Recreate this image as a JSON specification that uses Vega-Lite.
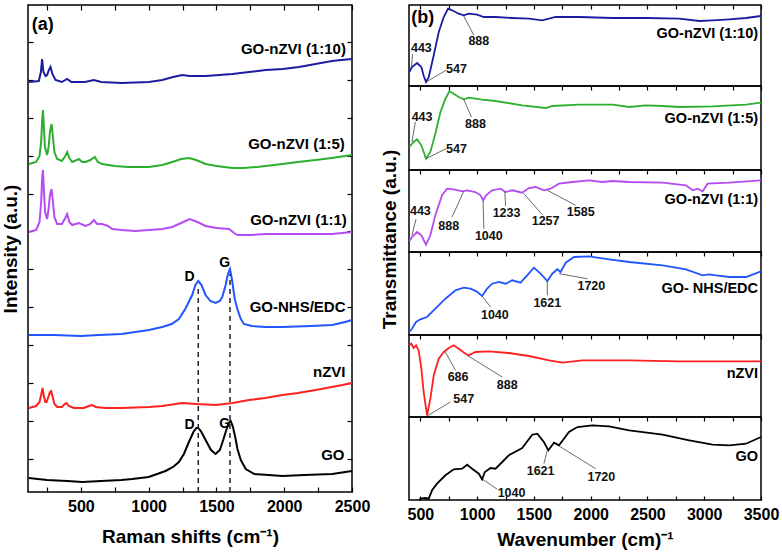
{
  "$schema": "https://vega.github.io/schema/vega-lite/v6.json",
  "padding": {"left": 0, "top": 3, "right": 0, "bottom": 4},
  "background": "white",
  "config": {
    "font": "Liberation Sans",
    "view": {"stroke": "#000", "strokeWidth": 1.5},
    "axis": {"grid": false, "domain": false, "labelFlush": false, "labelFont": "Liberation Sans", "titleFont": "Liberation Sans", "labelFontSize": 16, "labelFontWeight": "bold", "labelColor": "#000", "titleFontSize": 19, "titleFontWeight": "bold", "titleColor": "#000", "tickColor": "#000", "tickWidth": 1.2},
    "text": {"font": "Liberation Sans"}
  },
  "datasets": {
    "raman": [
      {"sample":"GO-nZVI (1:10)","shift":116,"i":410},{"sample":"GO-nZVI (1:10)","shift":190,"i":411},{"sample":"GO-nZVI (1:10)","shift":205,"i":420},{"sample":"GO-nZVI (1:10)","shift":214,"i":433},{"sample":"GO-nZVI (1:10)","shift":224,"i":420},{"sample":"GO-nZVI (1:10)","shift":240,"i":416},{"sample":"GO-nZVI (1:10)","shift":251,"i":417},{"sample":"GO-nZVI (1:10)","shift":264,"i":422},{"sample":"GO-nZVI (1:10)","shift":276,"i":425},{"sample":"GO-nZVI (1:10)","shift":290,"i":418},{"sample":"GO-nZVI (1:10)","shift":313,"i":412},{"sample":"GO-nZVI (1:10)","shift":360,"i":410},{"sample":"GO-nZVI (1:10)","shift":399,"i":413},{"sample":"GO-nZVI (1:10)","shift":430,"i":410},{"sample":"GO-nZVI (1:10)","shift":530,"i":410},{"sample":"GO-nZVI (1:10)","shift":596,"i":412},{"sample":"GO-nZVI (1:10)","shift":650,"i":410},{"sample":"GO-nZVI (1:10)","shift":800,"i":409},{"sample":"GO-nZVI (1:10)","shift":1002,"i":410},{"sample":"GO-nZVI (1:10)","shift":1100,"i":412},{"sample":"GO-nZVI (1:10)","shift":1180,"i":415},{"sample":"GO-nZVI (1:10)","shift":1248,"i":417},{"sample":"GO-nZVI (1:10)","shift":1300,"i":416},{"sample":"GO-nZVI (1:10)","shift":1420,"i":416},{"sample":"GO-nZVI (1:10)","shift":1520,"i":417},{"sample":"GO-nZVI (1:10)","shift":1617,"i":418},{"sample":"GO-nZVI (1:10)","shift":1740,"i":420},{"sample":"GO-nZVI (1:10)","shift":1863,"i":422},{"sample":"GO-nZVI (1:10)","shift":1990,"i":423},{"sample":"GO-nZVI (1:10)","shift":2109,"i":425},{"sample":"GO-nZVI (1:10)","shift":2230,"i":428},{"sample":"GO-nZVI (1:10)","shift":2353,"i":431},{"sample":"GO-nZVI (1:10)","shift":2420,"i":432},{"sample":"GO-nZVI (1:10)","shift":2500,"i":433},
      {"sample":"GO-nZVI (1:5)","shift":116,"i":328},{"sample":"GO-nZVI (1:5)","shift":170,"i":330},{"sample":"GO-nZVI (1:5)","shift":195,"i":336},{"sample":"GO-nZVI (1:5)","shift":207,"i":350},{"sample":"GO-nZVI (1:5)","shift":214,"i":370},{"sample":"GO-nZVI (1:5)","shift":220,"i":382},{"sample":"GO-nZVI (1:5)","shift":226,"i":368},{"sample":"GO-nZVI (1:5)","shift":235,"i":345},{"sample":"GO-nZVI (1:5)","shift":251,"i":337},{"sample":"GO-nZVI (1:5)","shift":262,"i":345},{"sample":"GO-nZVI (1:5)","shift":272,"i":360},{"sample":"GO-nZVI (1:5)","shift":284,"i":368},{"sample":"GO-nZVI (1:5)","shift":294,"i":355},{"sample":"GO-nZVI (1:5)","shift":305,"i":340},{"sample":"GO-nZVI (1:5)","shift":325,"i":333},{"sample":"GO-nZVI (1:5)","shift":360,"i":331},{"sample":"GO-nZVI (1:5)","shift":385,"i":336},{"sample":"GO-nZVI (1:5)","shift":399,"i":340},{"sample":"GO-nZVI (1:5)","shift":415,"i":334},{"sample":"GO-nZVI (1:5)","shift":436,"i":330},{"sample":"GO-nZVI (1:5)","shift":470,"i":332},{"sample":"GO-nZVI (1:5)","shift":485,"i":333},{"sample":"GO-nZVI (1:5)","shift":510,"i":330},{"sample":"GO-nZVI (1:5)","shift":535,"i":330},{"sample":"GO-nZVI (1:5)","shift":570,"i":332},{"sample":"GO-nZVI (1:5)","shift":603,"i":335},{"sample":"GO-nZVI (1:5)","shift":625,"i":330},{"sample":"GO-nZVI (1:5)","shift":657,"i":328},{"sample":"GO-nZVI (1:5)","shift":750,"i":326},{"sample":"GO-nZVI (1:5)","shift":850,"i":325},{"sample":"GO-nZVI (1:5)","shift":1002,"i":325},{"sample":"GO-nZVI (1:5)","shift":1100,"i":327},{"sample":"GO-nZVI (1:5)","shift":1174,"i":330},{"sample":"GO-nZVI (1:5)","shift":1240,"i":333},{"sample":"GO-nZVI (1:5)","shift":1297,"i":334},{"sample":"GO-nZVI (1:5)","shift":1350,"i":332},{"sample":"GO-nZVI (1:5)","shift":1420,"i":328},{"sample":"GO-nZVI (1:5)","shift":1500,"i":326},{"sample":"GO-nZVI (1:5)","shift":1617,"i":324},{"sample":"GO-nZVI (1:5)","shift":1700,"i":324},{"sample":"GO-nZVI (1:5)","shift":1800,"i":325},{"sample":"GO-nZVI (1:5)","shift":1986,"i":328},{"sample":"GO-nZVI (1:5)","shift":2100,"i":330},{"sample":"GO-nZVI (1:5)","shift":2232,"i":332},{"sample":"GO-nZVI (1:5)","shift":2350,"i":334},{"sample":"GO-nZVI (1:5)","shift":2500,"i":337},
      {"sample":"GO-nZVI (1:1)","shift":116,"i":260},{"sample":"GO-nZVI (1:1)","shift":170,"i":262},{"sample":"GO-nZVI (1:1)","shift":195,"i":270},{"sample":"GO-nZVI (1:1)","shift":207,"i":290},{"sample":"GO-nZVI (1:1)","shift":214,"i":312},{"sample":"GO-nZVI (1:1)","shift":220,"i":322},{"sample":"GO-nZVI (1:1)","shift":226,"i":305},{"sample":"GO-nZVI (1:1)","shift":236,"i":280},{"sample":"GO-nZVI (1:1)","shift":251,"i":273},{"sample":"GO-nZVI (1:1)","shift":262,"i":283},{"sample":"GO-nZVI (1:1)","shift":272,"i":297},{"sample":"GO-nZVI (1:1)","shift":284,"i":303},{"sample":"GO-nZVI (1:1)","shift":294,"i":290},{"sample":"GO-nZVI (1:1)","shift":305,"i":275},{"sample":"GO-nZVI (1:1)","shift":325,"i":268},{"sample":"GO-nZVI (1:1)","shift":360,"i":268},{"sample":"GO-nZVI (1:1)","shift":385,"i":274},{"sample":"GO-nZVI (1:1)","shift":399,"i":278},{"sample":"GO-nZVI (1:1)","shift":415,"i":270},{"sample":"GO-nZVI (1:1)","shift":436,"i":267},{"sample":"GO-nZVI (1:1)","shift":485,"i":269},{"sample":"GO-nZVI (1:1)","shift":535,"i":266},{"sample":"GO-nZVI (1:1)","shift":570,"i":268},{"sample":"GO-nZVI (1:1)","shift":596,"i":272},{"sample":"GO-nZVI (1:1)","shift":620,"i":268},{"sample":"GO-nZVI (1:1)","shift":657,"i":268},{"sample":"GO-nZVI (1:1)","shift":700,"i":266},{"sample":"GO-nZVI (1:1)","shift":731,"i":263},{"sample":"GO-nZVI (1:1)","shift":800,"i":262},{"sample":"GO-nZVI (1:1)","shift":900,"i":261},{"sample":"GO-nZVI (1:1)","shift":1002,"i":262},{"sample":"GO-nZVI (1:1)","shift":1100,"i":263},{"sample":"GO-nZVI (1:1)","shift":1174,"i":265},{"sample":"GO-nZVI (1:1)","shift":1240,"i":269},{"sample":"GO-nZVI (1:1)","shift":1302,"i":273},{"sample":"GO-nZVI (1:1)","shift":1360,"i":270},{"sample":"GO-nZVI (1:1)","shift":1420,"i":266},{"sample":"GO-nZVI (1:1)","shift":1500,"i":264},{"sample":"GO-nZVI (1:1)","shift":1593,"i":263},{"sample":"GO-nZVI (1:1)","shift":1630,"i":259},{"sample":"GO-nZVI (1:1)","shift":1655,"i":257},{"sample":"GO-nZVI (1:1)","shift":1750,"i":257},{"sample":"GO-nZVI (1:1)","shift":1863,"i":258},{"sample":"GO-nZVI (1:1)","shift":2000,"i":258},{"sample":"GO-nZVI (1:1)","shift":2200,"i":258},{"sample":"GO-nZVI (1:1)","shift":2353,"i":258},{"sample":"GO-nZVI (1:1)","shift":2500,"i":260},
      {"sample":"GO-NHS/EDC","shift":116,"i":157},{"sample":"GO-NHS/EDC","shift":300,"i":157},{"sample":"GO-NHS/EDC","shift":500,"i":156},{"sample":"GO-NHS/EDC","shift":633,"i":157},{"sample":"GO-NHS/EDC","shift":800,"i":158},{"sample":"GO-NHS/EDC","shift":1002,"i":162},{"sample":"GO-NHS/EDC","shift":1100,"i":165},{"sample":"GO-NHS/EDC","shift":1170,"i":168},{"sample":"GO-NHS/EDC","shift":1223,"i":173},{"sample":"GO-NHS/EDC","shift":1270,"i":183},{"sample":"GO-NHS/EDC","shift":1321,"i":197},{"sample":"GO-NHS/EDC","shift":1345,"i":207},{"sample":"GO-NHS/EDC","shift":1366,"i":211},{"sample":"GO-NHS/EDC","shift":1390,"i":207},{"sample":"GO-NHS/EDC","shift":1420,"i":197},{"sample":"GO-NHS/EDC","shift":1455,"i":191},{"sample":"GO-NHS/EDC","shift":1494,"i":189},{"sample":"GO-NHS/EDC","shift":1525,"i":191},{"sample":"GO-NHS/EDC","shift":1543,"i":195},{"sample":"GO-NHS/EDC","shift":1568,"i":207},{"sample":"GO-NHS/EDC","shift":1585,"i":218},{"sample":"GO-NHS/EDC","shift":1600,"i":223},{"sample":"GO-NHS/EDC","shift":1615,"i":212},{"sample":"GO-NHS/EDC","shift":1635,"i":193},{"sample":"GO-NHS/EDC","shift":1654,"i":183},{"sample":"GO-NHS/EDC","shift":1680,"i":173},{"sample":"GO-NHS/EDC","shift":1703,"i":168},{"sample":"GO-NHS/EDC","shift":1760,"i":166},{"sample":"GO-NHS/EDC","shift":1860,"i":165},{"sample":"GO-NHS/EDC","shift":1986,"i":165},{"sample":"GO-NHS/EDC","shift":2200,"i":166},{"sample":"GO-NHS/EDC","shift":2354,"i":167},{"sample":"GO-NHS/EDC","shift":2450,"i":170},{"sample":"GO-NHS/EDC","shift":2500,"i":172},
      {"sample":"nZVI","shift":116,"i":84},{"sample":"nZVI","shift":170,"i":86},{"sample":"nZVI","shift":195,"i":90},{"sample":"nZVI","shift":207,"i":97},{"sample":"nZVI","shift":217,"i":104},{"sample":"nZVI","shift":227,"i":96},{"sample":"nZVI","shift":238,"i":90},{"sample":"nZVI","shift":247,"i":90},{"sample":"nZVI","shift":260,"i":95},{"sample":"nZVI","shift":272,"i":100},{"sample":"nZVI","shift":281,"i":101},{"sample":"nZVI","shift":292,"i":95},{"sample":"nZVI","shift":305,"i":88},{"sample":"nZVI","shift":325,"i":85},{"sample":"nZVI","shift":360,"i":85},{"sample":"nZVI","shift":380,"i":88},{"sample":"nZVI","shift":394,"i":89},{"sample":"nZVI","shift":410,"i":86},{"sample":"nZVI","shift":448,"i":84},{"sample":"nZVI","shift":520,"i":84},{"sample":"nZVI","shift":560,"i":86},{"sample":"nZVI","shift":583,"i":87},{"sample":"nZVI","shift":610,"i":85},{"sample":"nZVI","shift":678,"i":84},{"sample":"nZVI","shift":800,"i":84},{"sample":"nZVI","shift":1002,"i":85},{"sample":"nZVI","shift":1100,"i":86},{"sample":"nZVI","shift":1248,"i":89},{"sample":"nZVI","shift":1350,"i":88},{"sample":"nZVI","shift":1494,"i":87},{"sample":"nZVI","shift":1620,"i":89},{"sample":"nZVI","shift":1740,"i":92},{"sample":"nZVI","shift":1860,"i":94},{"sample":"nZVI","shift":1986,"i":97},{"sample":"nZVI","shift":2100,"i":99},{"sample":"nZVI","shift":2232,"i":102},{"sample":"nZVI","shift":2350,"i":105},{"sample":"nZVI","shift":2430,"i":107},{"sample":"nZVI","shift":2500,"i":109},
      {"sample":"GO","shift":116,"i":14},{"sample":"GO","shift":250,"i":12},{"sample":"GO","shift":400,"i":11},{"sample":"GO","shift":510,"i":10},{"sample":"GO","shift":650,"i":11},{"sample":"GO","shift":800,"i":12},{"sample":"GO","shift":879,"i":13},{"sample":"GO","shift":1000,"i":15},{"sample":"GO","shift":1125,"i":21},{"sample":"GO","shift":1180,"i":25},{"sample":"GO","shift":1223,"i":30},{"sample":"GO","shift":1260,"i":38},{"sample":"GO","shift":1297,"i":50},{"sample":"GO","shift":1330,"i":60},{"sample":"GO","shift":1352,"i":64},{"sample":"GO","shift":1366,"i":64},{"sample":"GO","shift":1385,"i":61},{"sample":"GO","shift":1420,"i":52},{"sample":"GO","shift":1460,"i":42},{"sample":"GO","shift":1494,"i":38},{"sample":"GO","shift":1525,"i":42},{"sample":"GO","shift":1550,"i":52},{"sample":"GO","shift":1568,"i":60},{"sample":"GO","shift":1590,"i":69},{"sample":"GO","shift":1605,"i":71},{"sample":"GO","shift":1620,"i":66},{"sample":"GO","shift":1640,"i":54},{"sample":"GO","shift":1655,"i":43},{"sample":"GO","shift":1680,"i":32},{"sample":"GO","shift":1716,"i":23},{"sample":"GO","shift":1780,"i":18},{"sample":"GO","shift":1986,"i":16},{"sample":"GO","shift":2150,"i":17},{"sample":"GO","shift":2354,"i":18},{"sample":"GO","shift":2500,"i":21}
    ],
    "ramanBands": [
      {"band":"D","shift":1366,"i":0,"i2":205},
      {"band":"G","shift":1600,"i":0,"i2":218}
    ],
    "ramanBandLabels": [
      {"text":"D","shift":1302,"i":215},{"text":"G","shift":1560,"i":229},
      {"text":"D","shift":1302,"i":67},{"text":"G","shift":1560,"i":68}
    ],
    "ramanNames": [
      {"text":"GO-nZVI (1:10)","shift":2455,"i":443},
      {"text":"GO-nZVI (1:5)","shift":2447,"i":348},
      {"text":"GO-nZVI (1:1)","shift":2462,"i":272},
      {"text":"GO-NHS/EDC","shift":2452,"i":185},
      {"text":"nZVI","shift":2452,"i":120},
      {"text":"GO","shift":2445,"i":37}
    ],
    "panelA": [{"text":"(a)","shift":138,"i":467}],
    "ftir": [
      {"sample":"1:10","wn":403,"t":14},{"sample":"1:10","wn":426,"t":19},{"sample":"1:10","wn":471,"t":23},{"sample":"1:10","wn":509,"t":19},{"sample":"1:10","wn":530,"t":10},{"sample":"1:10","wn":550,"t":4},{"sample":"1:10","wn":574,"t":9},{"sample":"1:10","wn":618,"t":30.7},{"sample":"1:10","wn":662,"t":54},{"sample":"1:10","wn":706,"t":69},{"sample":"1:10","wn":744,"t":77.3},{"sample":"1:10","wn":779,"t":75.7},{"sample":"1:10","wn":838,"t":72.3},{"sample":"1:10","wn":882,"t":70.7},{"sample":"1:10","wn":926,"t":72.3},{"sample":"1:10","wn":1000,"t":71.3},{"sample":"1:10","wn":1059,"t":69},{"sample":"1:10","wn":1162,"t":69},{"sample":"1:10","wn":1309,"t":68},{"sample":"1:10","wn":1456,"t":67.3},{"sample":"1:10","wn":1574,"t":65.7},{"sample":"1:10","wn":1691,"t":69},{"sample":"1:10","wn":1897,"t":69},{"sample":"1:10","wn":2192,"t":68},{"sample":"1:10","wn":2486,"t":68},{"sample":"1:10","wn":2780,"t":67.3},{"sample":"1:10","wn":2957,"t":65},{"sample":"1:10","wn":3074,"t":65.7},{"sample":"1:10","wn":3221,"t":66.7},{"sample":"1:10","wn":3368,"t":68},{"sample":"1:10","wn":3500,"t":70},
      {"sample":"1:5","wn":403,"t":23},{"sample":"1:5","wn":441,"t":28},{"sample":"1:5","wn":471,"t":30.7},{"sample":"1:5","wn":509,"t":24.7},{"sample":"1:5","wn":550,"t":11.3},{"sample":"1:5","wn":588,"t":18},{"sample":"1:5","wn":632,"t":36.3},{"sample":"1:5","wn":677,"t":58},{"sample":"1:5","wn":721,"t":71.3},{"sample":"1:5","wn":756,"t":78.7},{"sample":"1:5","wn":794,"t":76.3},{"sample":"1:5","wn":838,"t":73},{"sample":"1:5","wn":882,"t":70.7},{"sample":"1:5","wn":926,"t":72.3},{"sample":"1:5","wn":1044,"t":70.3},{"sample":"1:5","wn":1162,"t":69},{"sample":"1:5","wn":1397,"t":64.7},{"sample":"1:5","wn":1603,"t":62},{"sample":"1:5","wn":1662,"t":64},{"sample":"1:5","wn":1897,"t":65.3},{"sample":"1:5","wn":2192,"t":65.3},{"sample":"1:5","wn":2339,"t":63},{"sample":"1:5","wn":2486,"t":64.7},{"sample":"1:5","wn":2633,"t":64},{"sample":"1:5","wn":2780,"t":63},{"sample":"1:5","wn":3074,"t":63.7},{"sample":"1:5","wn":3368,"t":65.3},{"sample":"1:5","wn":3500,"t":67.3},
      {"sample":"1:1","wn":403,"t":10.7},{"sample":"1:1","wn":426,"t":15},{"sample":"1:1","wn":471,"t":20},{"sample":"1:1","wn":509,"t":16.7},{"sample":"1:1","wn":550,"t":7.3},{"sample":"1:1","wn":588,"t":16.7},{"sample":"1:1","wn":632,"t":36.7},{"sample":"1:1","wn":691,"t":56.7},{"sample":"1:1","wn":735,"t":63.3},{"sample":"1:1","wn":794,"t":62.7},{"sample":"1:1","wn":868,"t":60.7},{"sample":"1:1","wn":912,"t":61.7},{"sample":"1:1","wn":985,"t":60},{"sample":"1:1","wn":1030,"t":56.7},{"sample":"1:1","wn":1053,"t":51.7},{"sample":"1:1","wn":1079,"t":56.7},{"sample":"1:1","wn":1132,"t":61.7},{"sample":"1:1","wn":1206,"t":63.3},{"sample":"1:1","wn":1250,"t":60},{"sample":"1:1","wn":1309,"t":61.7},{"sample":"1:1","wn":1397,"t":59.3},{"sample":"1:1","wn":1456,"t":64},{"sample":"1:1","wn":1515,"t":65},{"sample":"1:1","wn":1588,"t":61.7},{"sample":"1:1","wn":1647,"t":63.3},{"sample":"1:1","wn":1721,"t":68.3},{"sample":"1:1","wn":1838,"t":70},{"sample":"1:1","wn":1986,"t":71.7},{"sample":"1:1","wn":2103,"t":70},{"sample":"1:1","wn":2192,"t":71},{"sample":"1:1","wn":2339,"t":70},{"sample":"1:1","wn":2633,"t":69.3},{"sample":"1:1","wn":2839,"t":66.7},{"sample":"1:1","wn":2897,"t":61.7},{"sample":"1:1","wn":2942,"t":63.3},{"sample":"1:1","wn":2986,"t":60.7},{"sample":"1:1","wn":3030,"t":68.3},{"sample":"1:1","wn":3221,"t":69.3},{"sample":"1:1","wn":3500,"t":71.7},
      {"sample":"NHS","wn":403,"t":3},{"sample":"NHS","wn":426,"t":6.3},{"sample":"NHS","wn":462,"t":13},{"sample":"NHS","wn":500,"t":15.7},{"sample":"NHS","wn":559,"t":18},{"sample":"NHS","wn":632,"t":26.3},{"sample":"NHS","wn":721,"t":36.3},{"sample":"NHS","wn":809,"t":44.7},{"sample":"NHS","wn":882,"t":47.3},{"sample":"NHS","wn":941,"t":46.3},{"sample":"NHS","wn":994,"t":43.7},{"sample":"NHS","wn":1044,"t":39},{"sample":"NHS","wn":1088,"t":46.3},{"sample":"NHS","wn":1132,"t":51.3},{"sample":"NHS","wn":1191,"t":53},{"sample":"NHS","wn":1250,"t":51.3},{"sample":"NHS","wn":1309,"t":54.7},{"sample":"NHS","wn":1382,"t":52.3},{"sample":"NHS","wn":1441,"t":59.7},{"sample":"NHS","wn":1500,"t":67.3},{"sample":"NHS","wn":1559,"t":61.3},{"sample":"NHS","wn":1618,"t":54},{"sample":"NHS","wn":1662,"t":61.3},{"sample":"NHS","wn":1706,"t":65.7},{"sample":"NHS","wn":1735,"t":63},{"sample":"NHS","wn":1780,"t":72.3},{"sample":"NHS","wn":1853,"t":78},{"sample":"NHS","wn":1986,"t":78.7},{"sample":"NHS","wn":2162,"t":75.7},{"sample":"NHS","wn":2339,"t":73},{"sample":"NHS","wn":2633,"t":69.7},{"sample":"NHS","wn":2839,"t":65.7},{"sample":"NHS","wn":2986,"t":59.7},{"sample":"NHS","wn":3045,"t":60.7},{"sample":"NHS","wn":3103,"t":59.7},{"sample":"NHS","wn":3221,"t":58},{"sample":"NHS","wn":3368,"t":58},{"sample":"NHS","wn":3500,"t":63.7},
      {"sample":"nZVI","wn":403,"t":71.7},{"sample":"nZVI","wn":420,"t":73.3},{"sample":"nZVI","wn":441,"t":69},{"sample":"nZVI","wn":462,"t":71.7},{"sample":"nZVI","wn":485,"t":66.7},{"sample":"nZVI","wn":509,"t":48.3},{"sample":"nZVI","wn":529,"t":25},{"sample":"nZVI","wn":559,"t":1.7},{"sample":"nZVI","wn":588,"t":18.3},{"sample":"nZVI","wn":618,"t":41.7},{"sample":"nZVI","wn":662,"t":58.3},{"sample":"nZVI","wn":706,"t":65},{"sample":"nZVI","wn":750,"t":69},{"sample":"nZVI","wn":794,"t":71.7},{"sample":"nZVI","wn":838,"t":68.3},{"sample":"nZVI","wn":897,"t":63.3},{"sample":"nZVI","wn":926,"t":61.7},{"sample":"nZVI","wn":985,"t":65},{"sample":"nZVI","wn":1103,"t":65.7},{"sample":"nZVI","wn":1279,"t":64},{"sample":"nZVI","wn":1456,"t":61},{"sample":"nZVI","wn":1633,"t":56.7},{"sample":"nZVI","wn":1750,"t":54.3},{"sample":"nZVI","wn":1927,"t":56.7},{"sample":"nZVI","wn":2339,"t":56.7},{"sample":"nZVI","wn":2780,"t":55.7},{"sample":"nZVI","wn":3221,"t":55.7},{"sample":"nZVI","wn":3500,"t":55.7},
      {"sample":"GO","wn":491,"t":0},{"sample":"GO","wn":500,"t":1.3},{"sample":"GO","wn":544,"t":2},{"sample":"GO","wn":574,"t":1.3},{"sample":"GO","wn":603,"t":9.7},{"sample":"GO","wn":647,"t":16.3},{"sample":"GO","wn":721,"t":24.7},{"sample":"GO","wn":794,"t":30.7},{"sample":"GO","wn":868,"t":31.3},{"sample":"GO","wn":912,"t":35.3},{"sample":"GO","wn":956,"t":31.3},{"sample":"GO","wn":1015,"t":26.3},{"sample":"GO","wn":1044,"t":20.7},{"sample":"GO","wn":1068,"t":28},{"sample":"GO","wn":1118,"t":32},{"sample":"GO","wn":1162,"t":31.3},{"sample":"GO","wn":1221,"t":38},{"sample":"GO","wn":1279,"t":44.7},{"sample":"GO","wn":1397,"t":52},{"sample":"GO","wn":1485,"t":65.3},{"sample":"GO","wn":1530,"t":66.3},{"sample":"GO","wn":1588,"t":58},{"sample":"GO","wn":1627,"t":49.7},{"sample":"GO","wn":1677,"t":57.3},{"sample":"GO","wn":1721,"t":54.7},{"sample":"GO","wn":1809,"t":68},{"sample":"GO","wn":1883,"t":73},{"sample":"GO","wn":2015,"t":74.7},{"sample":"GO","wn":2162,"t":73.7},{"sample":"GO","wn":2339,"t":69.7},{"sample":"GO","wn":2633,"t":65.3},{"sample":"GO","wn":2868,"t":59.7},{"sample":"GO","wn":3074,"t":55.3},{"sample":"GO","wn":3221,"t":54.7},{"sample":"GO","wn":3368,"t":56.3},{"sample":"GO","wn":3500,"t":63}
    ],
    "ftirLeaders": [
      {"sample":"1:10","wn":420,"t":18,"wn2":432,"t2":32},{"sample":"1:10","wn":550,"t":4,"wn2":726,"t2":15.7},{"sample":"1:10","wn":882,"t":70,"wn2":971,"t2":50.7},
      {"sample":"1:5","wn":426,"t":28,"wn2":456,"t2":48},{"sample":"1:5","wn":550,"t":11.3,"wn2":726,"t2":21.3},{"sample":"1:5","wn":882,"t":70.7,"wn2":950,"t2":53},
      {"sample":"1:1","wn":426,"t":16.7,"wn2":462,"t2":33},{"sample":"1:1","wn":882,"t":60.7,"wn2":779,"t2":35},{"sample":"1:1","wn":1053,"t":51,"wn2":1059,"t2":23.3},{"sample":"1:1","wn":1244,"t":60.7,"wn2":1250,"t2":46},{"sample":"1:1","wn":1412,"t":58.3,"wn2":1574,"t2":37.3},{"sample":"1:1","wn":1618,"t":61.7,"wn2":1868,"t2":46.7},
      {"sample":"NHS","wn":1044,"t":39,"wn2":1118,"t2":28},{"sample":"NHS","wn":1618,"t":53.7,"wn2":1618,"t2":39.7},{"sample":"NHS","wn":1721,"t":61.3,"wn2":1971,"t2":56.3},
      {"sample":"nZVI","wn":720,"t":65,"wn2":809,"t2":46.7},{"sample":"nZVI","wn":912,"t":61.7,"wn2":1221,"t2":40},{"sample":"nZVI","wn":559,"t":1,"wn2":765,"t2":15},
      {"sample":"GO","wn":1050,"t":20.7,"wn2":1177,"t2":10.7},{"sample":"GO","wn":1618,"t":49.7,"wn2":1588,"t2":36.3},{"sample":"GO","wn":1721,"t":54,"wn2":2044,"t2":31.3}
    ],
    "ftirPeaks": [
      {"sample":"1:10","text":"443","wn":509,"t":38},{"sample":"1:10","text":"547","wn":818,"t":16.7},{"sample":"1:10","text":"888","wn":1015,"t":44.7},
      {"sample":"1:5","text":"443","wn":515,"t":53},{"sample":"1:5","text":"547","wn":818,"t":21.3},{"sample":"1:5","text":"888","wn":985,"t":46.3},
      {"sample":"1:1","text":"443","wn":500,"t":40.7},{"sample":"1:1","text":"888","wn":750,"t":26},{"sample":"1:1","text":"1040","wn":1103,"t":16},{"sample":"1:1","text":"1233","wn":1259,"t":39.3},{"sample":"1:1","text":"1257","wn":1603,"t":31},{"sample":"1:1","text":"1585","wn":1912,"t":40},
      {"sample":"NHS","text":"1040","wn":1156,"t":19.7},{"sample":"NHS","text":"1621","wn":1618,"t":32},{"sample":"NHS","text":"1720","wn":2006,"t":49},
      {"sample":"nZVI","text":"686","wn":832,"t":40},{"sample":"nZVI","text":"888","wn":1265,"t":32.3},{"sample":"nZVI","text":"547","wn":882,"t":17.7},
      {"sample":"GO","text":"1040","wn":1303,"t":7.3},{"sample":"GO","text":"1621","wn":1559,"t":28.7},{"sample":"GO","text":"1720","wn":2094,"t":23}
    ],
    "ftirNames": [
      {"sample":"1:10","text":"GO-nZVI (1:10)","wn":3474,"t":52},
      {"sample":"1:5","text":"GO-nZVI (1:5)","wn":3474,"t":51.3},
      {"sample":"1:1","text":"GO-nZVI (1:1)","wn":3474,"t":51.7},
      {"sample":"NHS","text":"GO- NHS/EDC","wn":3474,"t":46.3},
      {"sample":"nZVI","text":"nZVI","wn":3474,"t":43.3},
      {"sample":"GO","text":"GO","wn":3474,"t":43}
    ],
    "panelB": [{"text":"(b)","wn":420,"t":68}]
  },
  "bounds": "flush",
  "spacing": 57,
  "hconcat": [
    {
      "width": 324,
      "height": 487,
      "resolve": {"axis": {"x": "independent", "y": "independent"}},
      "layer": [
        {
          "data": {"name": "raman"},
          "mark": {"type": "line", "strokeWidth": 2},
          "encoding": {
            "x": {"field": "shift", "type": "quantitative", "scale": {"domain": [110, 2500], "nice": false, "zero": false},
                  "axis": {"orient": "bottom", "offset": -5, "values": [250,500,750,1000,1250,1500,1750,2000,2250,2500], "format": "d", "labelExpr": "datum.value % 500 === 0 ? datum.label : ''", "tickSize": 5, "labelPadding": 6, "title": "Raman shifts (cm⁻¹)", "titlePadding": 13}},
            "y": {"field": "i", "type": "quantitative", "scale": {"domain": [0, 487], "nice": false},
                  "axis": {"orient": "left", "offset": -5, "values": [33,71,109,147,185,223,261,298,336,374,412,450], "labels": false, "tickSize": 5, "title": "Intensity (a.u.)", "titlePadding": 7}},
            "color": {"field": "sample", "type": "nominal", "legend": null,
                      "scale": {"domain": ["GO-nZVI (1:10)","GO-nZVI (1:5)","GO-nZVI (1:1)","GO-NHS/EDC","nZVI","GO"], "range": ["#1C1CA0","#2DAF2D","#B44CF2","#2255FF","#FF2020","#000000"]}}
          }
        },
        {
          "data": {"name": "ramanBands"},
          "mark": {"type": "rule", "strokeDash": [5, 4], "strokeWidth": 1.5, "color": "#222"},
          "encoding": {
            "x": {"field": "shift", "type": "quantitative", "scale": {"domain": [110, 2500], "nice": false, "zero": false},
                  "axis": {"orient": "top", "offset": -5, "values": [250,500,750,1000,1250,1500,1750,2000,2250,2500], "labels": false, "tickSize": 5, "title": null}},
            "y": {"field": "i", "type": "quantitative", "scale": {"domain": [0, 487], "nice": false},
                  "axis": {"orient": "right", "offset": -5, "values": [33,71,109,147,185,223,261,298,336,374,412,450], "labels": false, "tickSize": 5, "title": null}},
            "y2": {"field": "i2"}
          }
        },
        {
          "data": {"name": "ramanBandLabels"},
          "mark": {"type": "text", "fontSize": 14, "fontWeight": "bold", "color": "#000"},
          "encoding": {
            "x": {"field": "shift", "type": "quantitative", "scale": {"domain": [110, 2500], "nice": false, "zero": false}, "axis": null},
            "y": {"field": "i", "type": "quantitative", "scale": {"domain": [0, 487], "nice": false}, "axis": null},
            "text": {"field": "text"}
          }
        },
        {
          "data": {"name": "ramanNames"},
          "mark": {"type": "text", "fontSize": 15, "fontWeight": "bold", "align": "right", "color": "#000"},
          "encoding": {
            "x": {"field": "shift", "type": "quantitative", "scale": {"domain": [110, 2500], "nice": false, "zero": false}, "axis": null},
            "y": {"field": "i", "type": "quantitative", "scale": {"domain": [0, 487], "nice": false}, "axis": null},
            "text": {"field": "text"}
          }
        },
        {
          "data": {"name": "panelA"},
          "mark": {"type": "text", "fontSize": 18, "fontWeight": "bold", "align": "left", "color": "#000"},
          "encoding": {
            "x": {"field": "shift", "type": "quantitative", "scale": {"domain": [110, 2500], "nice": false, "zero": false}, "axis": null},
            "y": {"field": "i", "type": "quantitative", "scale": {"domain": [0, 487], "nice": false}, "axis": null},
            "text": {"field": "text"}
          }
        }
      ]
    },
    {
      "bounds": "flush",
      "spacing": 0,
      "vconcat": [
        {
          "width": 352, "height": 81,
          "resolve": {"axis": {"x": "independent", "y": "independent"}},
          "layer": [
            {"data": {"name": "ftir"}, "transform": [{"filter": "datum.sample === '1:10'"}],
             "mark": {"type": "line", "strokeWidth": 1.8, "color": "#1C1CA0"},
             "encoding": {"x": {"field": "wn", "type": "quantitative", "scale": {"domain": [400, 3500], "nice": false, "zero": false}, "axis": {"orient": "top", "offset": -4, "values": [500,750,1000,1250,1500,1750,2000,2250,2500,2750,3000,3250,3500], "labels": false, "tickSize": 4, "title": null}},
                          "y": {"field": "t", "type": "quantitative", "scale": {"domain": [0, 81], "nice": false}, "axis": null}}},
            {"data": {"name": "ftirLeaders"}, "transform": [{"filter": "datum.sample === '1:10'"}],
             "mark": {"type": "rule", "strokeWidth": 0.8, "color": "#444"},
             "encoding": {"x": {"field": "wn", "type": "quantitative", "scale": {"domain": [400, 3500], "nice": false, "zero": false}, "axis": null},
                          "y": {"field": "t", "type": "quantitative", "scale": {"domain": [0, 81], "nice": false}, "axis": null},
                          "x2": {"field": "wn2"}, "y2": {"field": "t2"}}},
            {"data": {"name": "ftirPeaks"}, "transform": [{"filter": "datum.sample === '1:10'"}],
             "mark": {"type": "text", "fontSize": 12.5, "fontWeight": "bold", "color": "#111"},
             "encoding": {"x": {"field": "wn", "type": "quantitative", "scale": {"domain": [400, 3500], "nice": false, "zero": false}, "axis": null},
                          "y": {"field": "t", "type": "quantitative", "scale": {"domain": [0, 81], "nice": false}, "axis": null},
                          "text": {"field": "text"}}},
            {"data": {"name": "ftirNames"}, "transform": [{"filter": "datum.sample === '1:10'"}],
             "mark": {"type": "text", "fontSize": 14.5, "fontWeight": "bold", "align": "right", "color": "#000"},
             "encoding": {"x": {"field": "wn", "type": "quantitative", "scale": {"domain": [400, 3500], "nice": false, "zero": false}, "axis": null},
                          "y": {"field": "t", "type": "quantitative", "scale": {"domain": [0, 81], "nice": false}, "axis": null},
                          "text": {"field": "text"}}},
            {"data": {"name": "panelB"},
             "mark": {"type": "text", "fontSize": 18, "fontWeight": "bold", "align": "left", "color": "#000"},
             "encoding": {"x": {"field": "wn", "type": "quantitative", "scale": {"domain": [400, 3500], "nice": false, "zero": false}, "axis": null},
                          "y": {"field": "t", "type": "quantitative", "scale": {"domain": [0, 81], "nice": false}, "axis": null},
                          "text": {"field": "text"}}}
          ]
        },
        {
          "width": 352, "height": 84,
          "resolve": {"axis": {"x": "independent", "y": "independent"}},
          "layer": [
            {"data": {"name": "ftir"}, "transform": [{"filter": "datum.sample === '1:5'"}],
             "mark": {"type": "line", "strokeWidth": 1.8, "color": "#2DAF2D"},
             "encoding": {"x": {"field": "wn", "type": "quantitative", "scale": {"domain": [400, 3500], "nice": false, "zero": false}, "axis": {"orient": "top", "offset": -4, "values": [500,750,1000,1250,1500,1750,2000,2250,2500,2750,3000,3250,3500], "labels": false, "tickSize": 4, "title": null}},
                          "y": {"field": "t", "type": "quantitative", "scale": {"domain": [0, 84], "nice": false}, "axis": null}}},
            {"data": {"name": "ftirLeaders"}, "transform": [{"filter": "datum.sample === '1:5'"}],
             "mark": {"type": "rule", "strokeWidth": 0.8, "color": "#444"},
             "encoding": {"x": {"field": "wn", "type": "quantitative", "scale": {"domain": [400, 3500], "nice": false, "zero": false}, "axis": null},
                          "y": {"field": "t", "type": "quantitative", "scale": {"domain": [0, 84], "nice": false}, "axis": null},
                          "x2": {"field": "wn2"}, "y2": {"field": "t2"}}},
            {"data": {"name": "ftirPeaks"}, "transform": [{"filter": "datum.sample === '1:5'"}],
             "mark": {"type": "text", "fontSize": 12.5, "fontWeight": "bold", "color": "#111"},
             "encoding": {"x": {"field": "wn", "type": "quantitative", "scale": {"domain": [400, 3500], "nice": false, "zero": false}, "axis": null},
                          "y": {"field": "t", "type": "quantitative", "scale": {"domain": [0, 84], "nice": false}, "axis": null},
                          "text": {"field": "text"}}},
            {"data": {"name": "ftirNames"}, "transform": [{"filter": "datum.sample === '1:5'"}],
             "mark": {"type": "text", "fontSize": 14.5, "fontWeight": "bold", "align": "right", "color": "#000"},
             "encoding": {"x": {"field": "wn", "type": "quantitative", "scale": {"domain": [400, 3500], "nice": false, "zero": false}, "axis": null},
                          "y": {"field": "t", "type": "quantitative", "scale": {"domain": [0, 84], "nice": false}, "axis": null},
                          "text": {"field": "text"}}}
          ]
        },
        {
          "width": 352, "height": 82,
          "resolve": {"axis": {"x": "independent", "y": "independent"}},
          "layer": [
            {"data": {"name": "ftir"}, "transform": [{"filter": "datum.sample === '1:1'"}],
             "mark": {"type": "line", "strokeWidth": 1.8, "color": "#B44CF2"},
             "encoding": {"x": {"field": "wn", "type": "quantitative", "scale": {"domain": [400, 3500], "nice": false, "zero": false}, "axis": {"orient": "top", "offset": -4, "values": [500,750,1000,1250,1500,1750,2000,2250,2500,2750,3000,3250,3500], "labels": false, "tickSize": 4, "title": null}},
                          "y": {"field": "t", "type": "quantitative", "scale": {"domain": [0, 82], "nice": false}, "axis": null}}},
            {"data": {"name": "ftirLeaders"}, "transform": [{"filter": "datum.sample === '1:1'"}],
             "mark": {"type": "rule", "strokeWidth": 0.8, "color": "#444"},
             "encoding": {"x": {"field": "wn", "type": "quantitative", "scale": {"domain": [400, 3500], "nice": false, "zero": false}, "axis": null},
                          "y": {"field": "t", "type": "quantitative", "scale": {"domain": [0, 82], "nice": false}, "axis": null},
                          "x2": {"field": "wn2"}, "y2": {"field": "t2"}}},
            {"data": {"name": "ftirPeaks"}, "transform": [{"filter": "datum.sample === '1:1'"}],
             "mark": {"type": "text", "fontSize": 12.5, "fontWeight": "bold", "color": "#111"},
             "encoding": {"x": {"field": "wn", "type": "quantitative", "scale": {"domain": [400, 3500], "nice": false, "zero": false}, "axis": null},
                          "y": {"field": "t", "type": "quantitative", "scale": {"domain": [0, 82], "nice": false}, "axis": null},
                          "text": {"field": "text"}}},
            {"data": {"name": "ftirNames"}, "transform": [{"filter": "datum.sample === '1:1'"}],
             "mark": {"type": "text", "fontSize": 14.5, "fontWeight": "bold", "align": "right", "color": "#000"},
             "encoding": {"x": {"field": "wn", "type": "quantitative", "scale": {"domain": [400, 3500], "nice": false, "zero": false}, "axis": null},
                          "y": {"field": "t", "type": "quantitative", "scale": {"domain": [0, 82], "nice": false}, "axis": null},
                          "text": {"field": "text"}}}
          ]
        },
        {
          "width": 352, "height": 83,
          "resolve": {"axis": {"x": "independent", "y": "independent"}},
          "layer": [
            {"data": {"name": "ftir"}, "transform": [{"filter": "datum.sample === 'NHS'"}],
             "mark": {"type": "line", "strokeWidth": 1.8, "color": "#2255FF"},
             "encoding": {"x": {"field": "wn", "type": "quantitative", "scale": {"domain": [400, 3500], "nice": false, "zero": false}, "axis": {"orient": "top", "offset": -4, "values": [500,750,1000,1250,1500,1750,2000,2250,2500,2750,3000,3250,3500], "labels": false, "tickSize": 4, "title": null}},
                          "y": {"field": "t", "type": "quantitative", "scale": {"domain": [0, 83], "nice": false}, "axis": {"orient": "left", "labels": false, "ticks": false, "title": "Transmittance (a.u.)", "titleY": -13, "titlePadding": 10}}}},
            {"data": {"name": "ftirLeaders"}, "transform": [{"filter": "datum.sample === 'NHS'"}],
             "mark": {"type": "rule", "strokeWidth": 0.8, "color": "#444"},
             "encoding": {"x": {"field": "wn", "type": "quantitative", "scale": {"domain": [400, 3500], "nice": false, "zero": false}, "axis": null},
                          "y": {"field": "t", "type": "quantitative", "scale": {"domain": [0, 83], "nice": false}, "axis": null},
                          "x2": {"field": "wn2"}, "y2": {"field": "t2"}}},
            {"data": {"name": "ftirPeaks"}, "transform": [{"filter": "datum.sample === 'NHS'"}],
             "mark": {"type": "text", "fontSize": 12.5, "fontWeight": "bold", "color": "#111"},
             "encoding": {"x": {"field": "wn", "type": "quantitative", "scale": {"domain": [400, 3500], "nice": false, "zero": false}, "axis": null},
                          "y": {"field": "t", "type": "quantitative", "scale": {"domain": [0, 83], "nice": false}, "axis": null},
                          "text": {"field": "text"}}},
            {"data": {"name": "ftirNames"}, "transform": [{"filter": "datum.sample === 'NHS'"}],
             "mark": {"type": "text", "fontSize": 14.5, "fontWeight": "bold", "align": "right", "color": "#000"},
             "encoding": {"x": {"field": "wn", "type": "quantitative", "scale": {"domain": [400, 3500], "nice": false, "zero": false}, "axis": null},
                          "y": {"field": "t", "type": "quantitative", "scale": {"domain": [0, 83], "nice": false}, "axis": null},
                          "text": {"field": "text"}}}
          ]
        },
        {
          "width": 352, "height": 82,
          "resolve": {"axis": {"x": "independent", "y": "independent"}},
          "layer": [
            {"data": {"name": "ftir"}, "transform": [{"filter": "datum.sample === 'nZVI'"}],
             "mark": {"type": "line", "strokeWidth": 1.8, "color": "#FF2020"},
             "encoding": {"x": {"field": "wn", "type": "quantitative", "scale": {"domain": [400, 3500], "nice": false, "zero": false}, "axis": {"orient": "top", "offset": -4, "values": [500,750,1000,1250,1500,1750,2000,2250,2500,2750,3000,3250,3500], "labels": false, "tickSize": 4, "title": null}},
                          "y": {"field": "t", "type": "quantitative", "scale": {"domain": [0, 82], "nice": false}, "axis": null}}},
            {"data": {"name": "ftirLeaders"}, "transform": [{"filter": "datum.sample === 'nZVI'"}],
             "mark": {"type": "rule", "strokeWidth": 0.8, "color": "#444"},
             "encoding": {"x": {"field": "wn", "type": "quantitative", "scale": {"domain": [400, 3500], "nice": false, "zero": false}, "axis": null},
                          "y": {"field": "t", "type": "quantitative", "scale": {"domain": [0, 82], "nice": false}, "axis": null},
                          "x2": {"field": "wn2"}, "y2": {"field": "t2"}}},
            {"data": {"name": "ftirPeaks"}, "transform": [{"filter": "datum.sample === 'nZVI'"}],
             "mark": {"type": "text", "fontSize": 12.5, "fontWeight": "bold", "color": "#111"},
             "encoding": {"x": {"field": "wn", "type": "quantitative", "scale": {"domain": [400, 3500], "nice": false, "zero": false}, "axis": null},
                          "y": {"field": "t", "type": "quantitative", "scale": {"domain": [0, 82], "nice": false}, "axis": null},
                          "text": {"field": "text"}}},
            {"data": {"name": "ftirNames"}, "transform": [{"filter": "datum.sample === 'nZVI'"}],
             "mark": {"type": "text", "fontSize": 14.5, "fontWeight": "bold", "align": "right", "color": "#000"},
             "encoding": {"x": {"field": "wn", "type": "quantitative", "scale": {"domain": [400, 3500], "nice": false, "zero": false}, "axis": null},
                          "y": {"field": "t", "type": "quantitative", "scale": {"domain": [0, 82], "nice": false}, "axis": null},
                          "text": {"field": "text"}}}
          ]
        },
        {
          "width": 352, "height": 83,
          "resolve": {"axis": {"x": "independent", "y": "independent"}},
          "layer": [
            {"data": {"name": "ftir"}, "transform": [{"filter": "datum.sample === 'GO'"}],
             "mark": {"type": "line", "strokeWidth": 1.8, "color": "#000000"},
             "encoding": {"x": {"field": "wn", "type": "quantitative", "scale": {"domain": [400, 3500], "nice": false, "zero": false}, "axis": {"orient": "bottom", "offset": -4, "values": [500,750,1000,1250,1500,1750,2000,2250,2500,2750,3000,3250,3500], "format": "d", "labelExpr": "datum.value % 500 === 0 ? datum.label : ''", "tickSize": 4, "labelPadding": 6, "title": "Wavenumber (cm)⁻¹", "titlePadding": 8}},
                          "y": {"field": "t", "type": "quantitative", "scale": {"domain": [0, 83], "nice": false}, "axis": null}}},
            {"data": {"name": "ftirLeaders"}, "transform": [{"filter": "datum.sample === 'GO'"}],
             "mark": {"type": "rule", "strokeWidth": 0.8, "color": "#444"},
             "encoding": {"x": {"field": "wn", "type": "quantitative", "scale": {"domain": [400, 3500], "nice": false, "zero": false}, "axis": null},
                          "y": {"field": "t", "type": "quantitative", "scale": {"domain": [0, 83], "nice": false}, "axis": null},
                          "x2": {"field": "wn2"}, "y2": {"field": "t2"}}},
            {"data": {"name": "ftirPeaks"}, "transform": [{"filter": "datum.sample === 'GO'"}],
             "mark": {"type": "text", "fontSize": 12.5, "fontWeight": "bold", "color": "#111"},
             "encoding": {"x": {"field": "wn", "type": "quantitative", "scale": {"domain": [400, 3500], "nice": false, "zero": false}, "axis": null},
                          "y": {"field": "t", "type": "quantitative", "scale": {"domain": [0, 83], "nice": false}, "axis": null},
                          "text": {"field": "text"}}},
            {"data": {"name": "ftirNames"}, "transform": [{"filter": "datum.sample === 'GO'"}],
             "mark": {"type": "text", "fontSize": 14.5, "fontWeight": "bold", "align": "right", "color": "#000"},
             "encoding": {"x": {"field": "wn", "type": "quantitative", "scale": {"domain": [400, 3500], "nice": false, "zero": false}, "axis": {"orient": "top", "offset": -4, "values": [500,750,1000,1250,1500,1750,2000,2250,2500,2750,3000,3250,3500], "labels": false, "tickSize": 4, "title": null}},
                          "y": {"field": "t", "type": "quantitative", "scale": {"domain": [0, 83], "nice": false}, "axis": null},
                          "text": {"field": "text"}}}
          ]
        }
      ]
    }
  ]
}
